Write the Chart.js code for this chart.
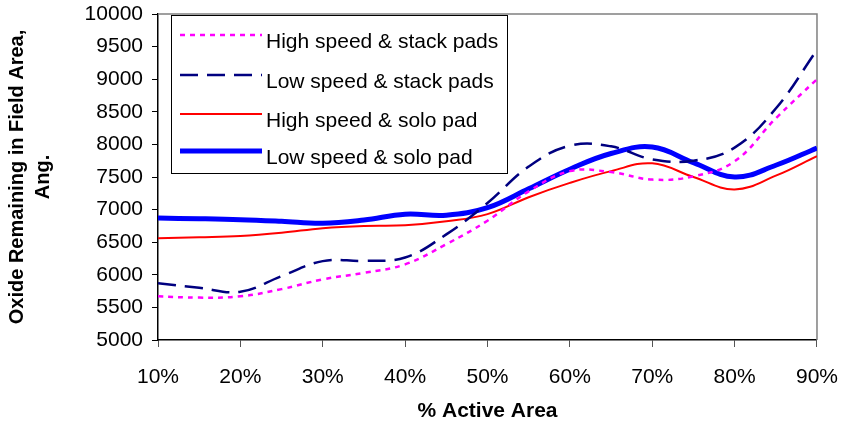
<!DOCTYPE html>
<html>
<head>
<meta charset="utf-8">
<script src="https://cdn.jsdelivr.net/npm/chart.js@4"></script>
<style>
  html, body { margin: 0; padding: 0; background: #fff; }
  #wrap { width: 841px; height: 424px; }
</style>
</head>
<body>
<div id="wrap"><canvas id="oxideChart" width="841" height="424"></canvas></div>
<script>
  'use strict';

  // % active area (x positions of the readings)
  const activeArea = [10, 15, 20, 25, 30, 35, 40, 45, 50, 55, 60, 65, 70, 75, 80, 85, 90];
  const xTicks = [10, 20, 30, 40, 50, 60, 70, 80, 90];
  const yTicks = [5000, 5500, 6000, 6500, 7000, 7500, 8000, 8500, 9000, 9500, 10000];

  const seriesNames = [
    'High speed & stack pads',
    'Low speed & stack pads',
    'High speed & solo pad',
    'Low speed & solo pad'
  ];
  const highStack = [5670, 5650, 5670, 5780, 5930, 6030, 6160, 6470, 6830, 7280, 7590, 7575, 7460, 7510, 7740, 8400, 9000];
  const lowStack  = [5870, 5800, 5740, 5980, 6210, 6215, 6265, 6620, 7100, 7660, 7980, 7970, 7770, 7750, 7950, 8550, 9450];
  const highSolo  = [6560, 6575, 6595, 6645, 6715, 6750, 6760, 6820, 6930, 7190, 7410, 7590, 7710, 7500, 7310, 7520, 7820];
  const lowSolo   = [6870, 6860, 6845, 6820, 6790, 6840, 6930, 6915, 7030, 7320, 7620, 7860, 7960, 7720, 7500, 7680, 7945];

  const FONT = "'Liberation Sans', Arial, sans-serif";

  function toPoints(values) {
    return values.map((v, i) => ({ x: activeArea[i], y: v }));
  }

  function lineSet(label, values, color, width, dash) {
    return {
      label: label,
      data: toPoints(values),
      borderColor: color,
      backgroundColor: color,
      borderWidth: width,
      borderDash: dash,
      pointRadius: 0,
      tension: 0.4,
      fill: false
    };
  }

  // gray frame on top/right of the plot area
  const frame = {
    id: 'frame',
    beforeDatasetsDraw(chart) {
      const a = chart.chartArea;
      const ctx = chart.ctx;
      ctx.save();
      ctx.strokeStyle = '#808080';
      ctx.lineWidth = 1.5;
      ctx.beginPath();
      ctx.moveTo(a.left, a.top);
      ctx.lineTo(a.right, a.top);
      ctx.lineTo(a.right, a.bottom);
      ctx.stroke();
      ctx.restore();
    }
  };

  // legend box sitting inside the plot, top left
  const boxLegend = {
    id: 'boxLegend',
    afterDraw(chart) {
      const ctx = chart.ctx;
      const box = { x: 171.5, y: 15.5, w: 336, h: 158 };
      const rows = [35, 75, 114, 151];
      ctx.save();
      ctx.fillStyle = '#fff';
      ctx.fillRect(box.x, box.y, box.w, box.h);
      ctx.strokeStyle = '#000';
      ctx.lineWidth = 1;
      ctx.strokeRect(box.x, box.y, box.w, box.h);
      chart.data.datasets.forEach((ds, i) => {
        const y = rows[i];
        ctx.strokeStyle = ds.borderColor;
        ctx.lineWidth = ds.borderWidth;
        ctx.setLineDash(ds.borderDash || []);
        ctx.beginPath();
        ctx.moveTo(180, y);
        ctx.lineTo(262, y);
        ctx.stroke();
        ctx.setLineDash([]);
        ctx.fillStyle = '#000';
        ctx.font = '21px ' + FONT;
        ctx.textBaseline = 'middle';
        ctx.fillText(ds.label, 266, y + 7);
      });
      ctx.restore();
    }
  };

  const ctx = document.getElementById('oxideChart').getContext('2d');
  new Chart(ctx, {
    type: 'line',
    data: {
      datasets: [
        lineSet(seriesNames[0], highStack, '#FF00FF', 2.5, [5, 5]),
        lineSet(seriesNames[1], lowStack, '#000080', 2.5, [18, 9]),
        lineSet(seriesNames[2], highSolo, '#FF0000', 2, []),
        lineSet(seriesNames[3], lowSolo, '#0000FF', 5, [])
      ]
    },
    options: {
      responsive: false,
      animation: false,
      layout: { padding: { top: 14, right: 23, left: 0, bottom: 0 } },
      plugins: {
        legend: { display: false },
        tooltip: { enabled: false }
      },
      scales: {
        x: {
          type: 'linear',
          min: 10,
          max: 90,
          afterBuildTicks: scale => { scale.ticks = xTicks.map(v => ({ value: v })); },
          afterFit: scale => { scale.height = 84; },
          grid: { drawOnChartArea: false, tickLength: 7, color: '#555' },
          border: { color: '#000', width: 1.5 },
          ticks: {
            padding: 3,
            color: '#000',
            // tall line height pushes the labels down without widening the side padding
            font: { family: FONT, size: 21, lineHeight: 2.55 },
            maxRotation: 0,
            callback: v => v + '%'
          },
          title: {
            display: true,
            text: '% Active Area',
            color: '#000',
            font: { family: FONT, size: 21, weight: 'bold' },
            padding: { top: 0, bottom: 0 }
          }
        },
        y: {
          min: 5000,
          max: 10000,
          afterBuildTicks: scale => { scale.ticks = yTicks.map(v => ({ value: v })); },
          afterFit: scale => { scale.width = 158; },
          grid: { drawOnChartArea: false, tickLength: 6, color: '#000' },
          border: { color: '#000', width: 1.5 },
          ticks: {
            padding: 9,
            color: '#000',
            font: { family: FONT, size: 21, lineHeight: 0.45 },
            callback: v => String(v)
          },
          title: {
            display: true,
            text: ['Oxide Remaining in Field Area,', 'Ang.'],
            color: '#000',
            font: { family: FONT, size: 20, weight: 'bold', lineHeight: 1.3 },
            padding: { top: 4, bottom: 0 }
          }
        }
      }
    },
    plugins: [frame, boxLegend]
  });
</script>
</body>
</html>
